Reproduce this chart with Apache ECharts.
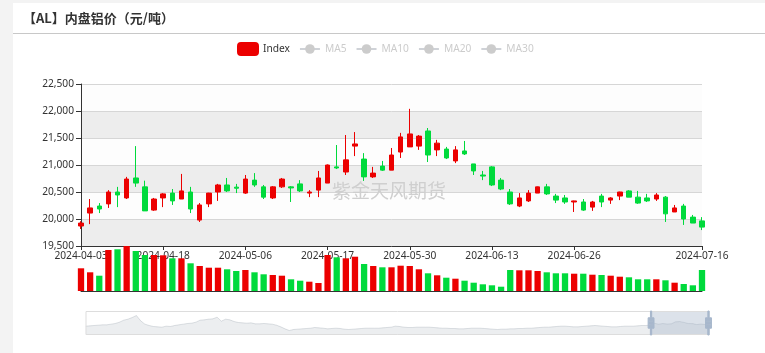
<!DOCTYPE html>
<html>
<head>
<meta charset="utf-8">
<title>内盘铝价</title>
<script src="https://cdn.jsdelivr.net/npm/echarts@6/dist/echarts.min.js"></script>
<style>
    html, body { margin: 0; padding: 0; background: #f3f3f3; }
    #card { position: absolute; left: 13px; top: 3px; width: 752px; height: 350px; background: #fff; }
    #main { position: absolute; left: 0; top: 0; width: 765px; height: 353px; }
</style>
</head>
<body>
<div id="card"></div>
<div id="main"></div>
<script type="text/javascript">
    // 交易日
    var dates = [
        '2024-04-03','2024-04-08','2024-04-09','2024-04-10','2024-04-11','2024-04-12','2024-04-15','2024-04-16','2024-04-17','2024-04-18',
        '2024-04-19','2024-04-22','2024-04-23','2024-04-24','2024-04-25','2024-04-26','2024-04-29','2024-04-30',
        '2024-05-06','2024-05-07','2024-05-08','2024-05-09','2024-05-10','2024-05-13','2024-05-14','2024-05-15','2024-05-16','2024-05-17',
        '2024-05-20','2024-05-21','2024-05-22','2024-05-23','2024-05-24','2024-05-27','2024-05-28','2024-05-29','2024-05-30','2024-05-31',
        '2024-06-03','2024-06-04','2024-06-05','2024-06-06','2024-06-07','2024-06-11','2024-06-12','2024-06-13','2024-06-14',
        '2024-06-17','2024-06-18','2024-06-19','2024-06-20','2024-06-21','2024-06-24','2024-06-25','2024-06-26','2024-06-27','2024-06-28',
        '2024-07-01','2024-07-02','2024-07-03','2024-07-04','2024-07-05','2024-07-08','2024-07-09','2024-07-10','2024-07-11','2024-07-12',
        '2024-07-15','2024-07-16'
    ];
    var opens = [
        19870,20110,20240,20280,20500,20390,20760,20595,20165,20390,
        20480,20370,20500,19980,20280,20500,20630,20590,
        20480,20720,20595,20390,20595,20595,20650,20480,20535,20665,
        20965,20870,21350,21110,20780,20980,20905,21240,21335,21350,
        21630,21280,21295,21075,21260,21020,20815,20965,20720,
        20500,20240,20335,20480,20595,20425,20390,20315,20315,20220,
        20425,20350,20425,20520,20405,20390,20370,20405,20130,20240,
        20035,19965
    ];
    var closes = [
        19925,20205,20185,20500,20445,20740,20665,20150,20370,20465,
        20335,20520,20185,20260,20480,20630,20520,20570,
        20740,20630,20405,20595,20740,20575,20520,20500,20760,21000,
        20945,21095,21390,20780,20850,20905,21185,21520,21575,21535,
        21185,21405,21130,21280,21205,20890,20795,20630,20555,
        20280,20390,20480,20595,20465,20350,20315,20335,20165,20315,
        20315,20390,20500,20405,20295,20335,20445,20095,20205,20000,
        19925,19850
    ];
    var lows = [
        19815,19905,20110,20205,20220,20370,20595,20150,20150,20220,
        20260,20370,20110,19945,20220,20335,20500,20480,
        20465,20595,20370,20370,20575,20315,20500,20405,20405,20665,
        20925,20815,21165,20705,20760,20890,20905,21130,21335,21280,
        21055,21165,21110,21035,21185,20815,20720,20610,20535,
        20260,20220,20315,20480,20445,20295,20280,20130,20150,20150,
        20220,20280,20350,20405,20280,20315,20335,19945,20130,19890,
        19925,19795
    ];
    var highs = [
        19960,20370,20295,20535,20595,20780,21350,20710,20390,20480,
        20555,20835,20595,20295,20485,20650,20760,20650,
        20815,20850,20630,20610,20760,20610,20720,20535,20890,21010,
        21370,21555,21610,21220,20965,21075,21315,21595,22040,21555,
        21685,21465,21335,21350,21445,21020,20890,20980,20760,
        20555,20480,20535,20600,20650,20465,20445,20340,20370,20335,
        20465,20405,20505,20535,20520,20465,20480,20425,20260,20280,
        20075,20035
    ];
    var volumes = [
        113500,93500,76500,205000,208500,225000,200000,180000,180000,178500,
        163500,163500,138500,125000,116500,116500,108500,100000,
        105000,93500,83500,80000,76500,58500,51500,46500,40000,180000,
        168500,163500,171500,135000,125000,118500,118500,126500,125000,108500,
        88500,78500,66500,61500,51500,41500,33500,28500,21500,
        105000,103500,103500,100000,93500,88500,88500,86500,86500,81500,
        80000,76500,71500,68500,58500,58500,58500,53500,41500,35000,
        28500,105000
    ];
    // 缩略轴上的历史走势（周）
    var histWeekly = [
        19460,19605,19755,19900,20050,20050,20350,20650,21245,22140,
        22585,23330,24225,21840,20350,19755,19310,19160,19010,19460,
        19310,19755,20050,20350,20650,20795,21245,22140,22285,22585,
        22735,23480,21690,22585,22285,21540,21095,20945,20795,20945,
        20500,20500,20650,20500,20350,19900,19160,18265,17520,17965,
        18115,18265,18410,18560,18860,18710,18560,18265,18410,18560,
        18410,18115,17965,18115,18265,18410,18560,18560,18560,18560,
        18710,18860,19010,19460,19310,19010,18860,18860,19010,19010,
        19010,19010,18860,18710,18560,18560,18410,18410,18265,18265,
        18410,18560,18560,18560,18410,18265,18115,17965,18115,18115,
        18265,18265,18410,18410,18560,18560,18710,18860,19010,19010,
        19160,19310,19460,19460,19310,19160,19160,19310,19460,19605,
        19755,19605,19460,19310,19160,19160,19310,19460,19460,19460,
        19605,19755,19755
    ];
    var weekIdx = [0,5,10,15,20,25,30,35,40,45,50,55,60,65,68];
    var legendNames = ['Index', 'MA5', 'MA10', 'MA20', 'MA30'];

    var upColor = '#ec0000';
    var downColor = '#00da3c';
    var fontSz = 10.2;

    var ohlc = [];
    for (var i = 0; i < dates.length; i++) {
        ohlc.push([opens[i], closes[i], lows[i], highs[i]]);
    }
    var volData = [];
    for (var i = 0; i < volumes.length; i++) {
        volData.push({
            value: volumes[i],
            itemStyle: { color: closes[i] > opens[i] ? upColor : downColor }
        });
    }
    var shadow = histWeekly.concat(weekIdx.map(function (k) { return closes[k]; }));

    function showIdx(i) {
        return (i % 9 === 0 && i <= 54) || i === dates.length - 1;
    }

    var myChart = echarts.init(document.getElementById('main'));
    var option = {
        animation: false,
        backgroundColor: 'transparent',
        textStyle: { fontFamily: 'Noto Sans' },
        graphic: [
            {
                type: 'text', left: 23, top: 12,
                style: { text: '【AL】内盘铝价（元/吨）', fontSize: 13, fontWeight: 'bold', fill: '#333', fontFamily: 'Noto Sans CJK SC' }
            },
            {
                type: 'line', shape: { x1: 13, y1: 33.5, x2: 765, y2: 33.5 },
                style: { stroke: '#c8c8c8', lineWidth: 1 }
            },
            {
                type: 'text', left: 332, top: 181, z: 1,
                style: { text: '紫金天风期货', fontSize: 19, fill: '#cfcfcf', fontFamily: 'Noto Sans CJK SC' }
            }
        ],
        legend: {
            left: 232, top: 37,
            itemWidth: 20, itemHeight: 12, itemGap: 9,
            data: legendNames,
            selected: { 'MA5': false, 'MA10': false, 'MA20': false, 'MA30': false },
            inactiveColor: '#ccc',
            textStyle: { color: '#333', fontSize: fontSz, fontFamily: 'Noto Sans' }
        },
        grid: [
            { left: 81, right: 63, top: 84, height: 162 },
            { left: 81, right: 63, top: 246, height: 45 },
            { left: 83, right: 58, top: 420, height: 10 }
        ],
        xAxis: [
            {
                type: 'category', data: dates, boundaryGap: false,
                axisLine: { onZero: false, lineStyle: { color: '#333' } },
                axisTick: { interval: showIdx, length: 4, lineStyle: { color: '#333' } },
                axisLabel: { interval: showIdx, color: '#333', fontSize: fontSz, margin: 5 },
                splitLine: { show: false },
                min: 'dataMin', max: 'dataMax'
            },
            {
                type: 'category', gridIndex: 1, data: dates, boundaryGap: false,
                axisLine: { onZero: false, lineStyle: { color: '#333' } },
                axisTick: { show: false },
                axisLabel: { show: false },
                splitLine: { show: false },
                min: 'dataMin', max: 'dataMax'
            },
            {
                type: 'category', gridIndex: 2, boundaryGap: false, show: false
            }
        ],
        yAxis: [
            {
                min: 19500, max: 22500, interval: 500,
                axisLine: { show: true, lineStyle: { color: '#333' } },
                axisTick: { show: true, length: 5, lineStyle: { color: '#333' } },
                axisLabel: { color: '#333', fontSize: fontSz, margin: 7 },
                splitLine: { show: true, lineStyle: { color: '#d6d6d6' } },
                splitArea: { show: true, areaStyle: { color: ['rgba(200,200,200,0.32)', 'rgba(250,250,250,0.3)'] } }
            },
            {
                gridIndex: 1, min: 0, max: 225000,
                axisLabel: { show: false }, axisLine: { show: false },
                axisTick: { show: false }, splitLine: { show: false }
            },
            {
                gridIndex: 2, scale: true, show: false
            }
        ],
        dataZoom: [
            {
                type: 'slider', xAxisIndex: 2,
                left: 83, right: 58, top: 311, height: 24,
                startValue: histWeekly.length, endValue: shadow.length - 1,
                showDetail: false, brushSelect: false, moveHandleSize: 0,
                borderColor: '#ddd', borderRadius: 0, backgroundColor: 'rgba(47,69,84,0)',
                fillerColor: 'rgba(167,183,203,0.4)',
                handleIcon: 'M8.2,13.6V3.9H6.3v9.7H3.1v14.9h3.3v9.7h1.8v-9.7h3.3V13.6H8.2z M9.7,24.4H4.8v-1.4h4.9V24.4z M9.7,19.1H4.8v-1.4h4.9V19.1z',
                handleSize: '100%',
                handleStyle: { color: '#a7b7cc', borderColor: '#a7b7cc' },
                dataBackground: {
                    lineStyle: { color: '#2f4554', width: 0.5, opacity: 0.3 },
                    areaStyle: { color: 'rgba(47,69,84,0.3)', opacity: 0.3 }
                },
                selectedDataBackground: {
                    lineStyle: { color: '#2f4554', width: 0.5, opacity: 0.3 },
                    areaStyle: { color: 'rgba(47,69,84,0.3)', opacity: 0.3 }
                }
            }
        ],
        series: [
            {
                name: 'Index', type: 'candlestick', data: ohlc, barWidth: 5,
                itemStyle: { color: upColor, color0: downColor, borderColor: upColor, borderColor0: downColor }
            },
            { name: 'MA5', type: 'line', data: [], symbol: 'circle', showSymbol: false },
            { name: 'MA10', type: 'line', data: [], symbol: 'circle', showSymbol: false },
            { name: 'MA20', type: 'line', data: [], symbol: 'circle', showSymbol: false },
            { name: 'MA30', type: 'line', data: [], symbol: 'circle', showSymbol: false },
            {
                name: 'Volume', type: 'bar', xAxisIndex: 1, yAxisIndex: 1, data: volData
            },
            {
                name: 'histWeekly', type: 'line', xAxisIndex: 2, yAxisIndex: 2, data: shadow,
                showSymbol: false, silent: true, lineStyle: { opacity: 0 }
            }
        ]
    };
    myChart.setOption(option);
</script>
</body>
</html>
